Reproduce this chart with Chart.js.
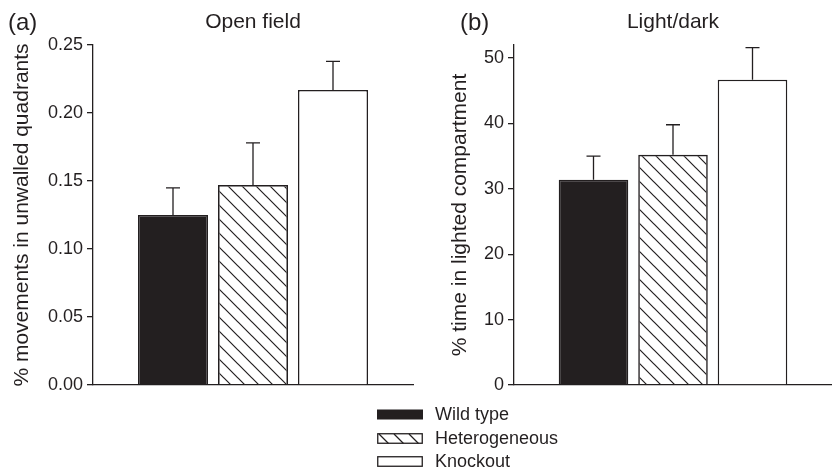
<!DOCTYPE html>
<html>
<head>
<meta charset="utf-8">
<script src="https://cdn.jsdelivr.net/npm/chart.js@4.4.1/dist/chart.umd.min.js"></script>
<style>
  body { margin: 0; background: #fff; width: 832px; height: 473px; position: relative; overflow: hidden;
         font-family: "Liberation Sans", Arial, sans-serif; color: #231f20; }
  .panel { position: absolute; top: 0; width: 416px; height: 400px; }
  #panelA { left: 0; }
  #panelB { left: 416px; }
  #legend { position: absolute; left: 377px; top: 403px; }
  .row { display: flex; align-items: center; height: 23.5px; }
  .row canvas { margin-right: 12px; }
  .row span { font-size: 18px; }
</style>
</head>
<body>
<div class="panel" id="panelA"><canvas id="chartA"></canvas></div>
<div class="panel" id="panelB"><canvas id="chartB"></canvas></div>
<div id="legend"></div>

<script>
const groups = ['Wild type', 'Heterogeneous', 'Knockout'];
const openField = [0.125, 0.147, 0.217];
const openFieldErr = [0.020, 0.031, 0.021];
const lightDark = [31.4, 35.2, 46.7];
const lightDarkErr = [3.6, 4.6, 4.9];

const ink = '#231f20';
const font = '"Liberation Sans", Arial, sans-serif';

// diagonal hatch used for the heterogeneous bars
function hatch() {
  const c = document.createElement('canvas');
  c.width = 14; c.height = 14;
  const g = c.getContext('2d');
  g.strokeStyle = ink;
  g.lineWidth = 1.2;
  g.beginPath();
  g.moveTo(-2, -2); g.lineTo(16, 16);
  g.moveTo(-2, 12); g.lineTo(2, 16);
  g.moveTo(12, -2); g.lineTo(16, 2);
  g.stroke();
  return g.createPattern(c, 'repeat');
}

const fills = [ink, hatch(), '#fff'];

const errorBars = {
  id: 'errorBars',
  afterDatasetsDraw(chart, args, opts) {
    const { ctx } = chart;
    const y = chart.scales.y;
    ctx.save();
    ctx.strokeStyle = ink;
    ctx.lineWidth = 1.3;
    chart.data.datasets.forEach((ds, i) => {
      const bar = chart.getDatasetMeta(i).data[0];
      const top = y.getPixelForValue(ds.data[0] + opts.errors[i]);
      ctx.beginPath();
      ctx.moveTo(bar.x, bar.y);
      ctx.lineTo(bar.x, top);
      ctx.moveTo(bar.x - 7, top);
      ctx.lineTo(bar.x + 7, top);
      ctx.stroke();
    });
    ctx.restore();
  }
};

const panelTitles = {
  id: 'panelTitles',
  afterDraw(chart, args, opts) {
    const { ctx, chartArea } = chart;
    ctx.save();
    ctx.fillStyle = ink;
    ctx.textBaseline = 'middle';
    ctx.textAlign = 'left';
    ctx.font = '24px ' + font;
    ctx.fillText(opts.letter, opts.letterX, 23);
    ctx.textAlign = 'center';
    ctx.font = '21px ' + font;
    ctx.fillText(opts.text, (chartArea.left + chartArea.right) / 2, 22);
    ctx.restore();
  }
};

function makeChart(id, values, errors, cfg) {
  return new Chart(document.getElementById(id), {
    type: 'bar',
    data: {
      labels: [''],
      datasets: groups.map((g, i) => ({
        label: g,
        data: [values[i]],
        backgroundColor: fills[i],
        borderColor: ink,
        borderWidth: 1.5,
        categoryPercentage: 0.75,
        barPercentage: 0.875
      }))
    },
    plugins: [errorBars, panelTitles],
    options: {
      responsive: true,
      maintainAspectRatio: false,
      animation: false,
      layout: { padding: { top: 45, right: cfg.right, bottom: 15, left: 0 } },
      plugins: {
        legend: { display: false },
        tooltip: { enabled: false },
        errorBars: { errors: errors },
        panelTitles: { letter: cfg.letter, letterX: cfg.letterX, text: cfg.title }
      },
      scales: {
        x: {
          ticks: { display: false },
          grid: { display: false },
          border: { display: true, color: ink, width: 1.3 },
          afterFit(s) { s.height = 0; }
        },
        y: {
          min: 0,
          max: cfg.max,
          afterFit(s) { s.width = cfg.axisWidth; },
          ticks: {
            stepSize: cfg.step,
            includeBounds: false,
            padding: 4,
            color: ink,
            font: { family: font, size: 18 },
            callback: cfg.format
          },
          grid: { drawOnChartArea: false, drawTicks: true, tickLength: 6, color: ink, lineWidth: 1.3 },
          border: { display: true, color: ink, width: 1.3 },
          title: {
            display: true,
            text: cfg.yTitle,
            color: ink,
            font: { family: font, size: 21 },
            padding: { top: cfg.titlePad, bottom: 0 }
          }
        }
      }
    }
  });
}

makeChart('chartA', openField, openFieldErr, {
  letter: '(a)', letterX: 8, title: 'Open field', right: 3, max: 0.25, step: 0.05,
  axisWidth: 93, titlePad: 10, yTitle: '% movements in unwalled quadrants',
  format: v => v.toFixed(2)
});

makeChart('chartB', lightDark, lightDarkErr, {
  letter: '(b)', letterX: 44, title: 'Light/dark', right: 0, max: 52, step: 10,
  axisWidth: 98, titlePad: 32, yTitle: '% time in lighted compartment',
  format: v => v
});

// shared legend below both panels
const legend = document.getElementById('legend');
groups.forEach((g, i) => {
  const row = document.createElement('div');
  row.className = 'row';
  const c = document.createElement('canvas');
  c.width = 46; c.height = 11;
  const x = c.getContext('2d');
  x.strokeStyle = ink;
  x.lineWidth = 1.3;
  if (i === 0) {
    x.fillStyle = ink;
    x.fillRect(0, 0.5, 46, 10);
  } else {
    x.strokeRect(0.75, 0.75, 44.5, 9.5);
    if (i === 1) {
      x.beginPath();
      [2, 17, 32].forEach(s => { x.moveTo(s, 1); x.lineTo(s + 9.5, 10.5); });
      x.stroke();
    }
  }
  const t = document.createElement('span');
  t.textContent = g;
  row.appendChild(c);
  row.appendChild(t);
  legend.appendChild(row);
});
</script>
</body>
</html>
